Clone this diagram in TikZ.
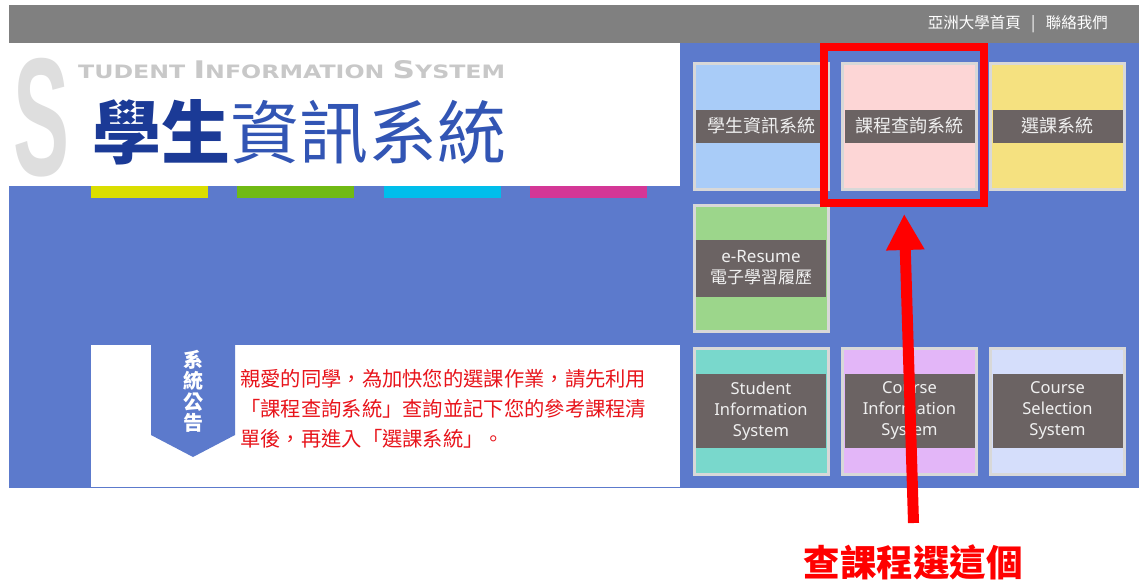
\documentclass[tikz,border=0pt]{standalone}
\usepackage{graphicx}
\usepackage{xcolor}
\usepackage{fontspec}
\newfontfamily\cjk{Noto Sans CJK TC}
\newfontfamily\sans{Noto Sans}
\newfontfamily\wide{DejaVu Sans}
\newfontfamily\arialb{Liberation Sans}
\usetikzlibrary{arrows.meta,calc,positioning}

\definecolor{bgblue}{RGB}{92,122,204}
\definecolor{topgray}{RGB}{128,128,128}
\definecolor{sgray}{RGB}{222,222,222}
\definecolor{engray}{RGB}{200,200,200}
\definecolor{titledark}{RGB}{27,58,150}
\definecolor{titleblue}{RGB}{50,85,180}
\definecolor{baryellow}{RGB}{218,222,0}
\definecolor{bargreen}{RGB}{112,186,20}
\definecolor{barcyan}{RGB}{0,190,235}
\definecolor{barpink}{RGB}{212,55,150}
\definecolor{notered}{RGB}{232,20,27}
\definecolor{tileblue}{RGB}{169,204,248}
\definecolor{tilepink}{RGB}{253,214,214}
\definecolor{tileyellow}{RGB}{245,225,128}
\definecolor{tilegreen}{RGB}{156,214,139}
\definecolor{tileteal}{RGB}{121,216,204}
\definecolor{tilelilac}{RGB}{227,182,248}
\definecolor{tilepale}{RGB}{213,222,251}
\definecolor{tileedge}{RGB}{216,216,216}
\definecolor{bandgray}{RGB}{107,99,99}
\definecolor{bandtext}{RGB}{240,240,240}
\definecolor{hintred}{RGB}{255,0,0}

\begin{document}
\begin{tikzpicture}[x=1pt,y=-1pt,
    tile/.style={draw=tileedge,line width=3pt,minimum width=134pt,minimum height=126pt,inner sep=0},
    band/.style={fill=bandgray,text=bandtext,minimum width=130pt,inner sep=0,align=center},
    cjkband/.style={band,minimum height=33pt,font=\cjk\fontsize{18}{18}\selectfont},
    enband/.style={band,minimum height=74pt,font=\sans\fontsize{16.5}{21}\selectfont}]
    \useasboundingbox (0,0) rectangle (1139,586);
    \fill[topgray] (9,5) rectangle (1139,43);
    \fill[bgblue] (9,43) rectangle (1139,488);
    \fill[white] (9,43) rectangle (680,186);
    \fill[white] (91,345) rectangle (680,487);
    \foreach \x/\c in {91/baryellow,237/bargreen,384/barcyan,530/barpink}
    \fill[\c] (\x,186) rectangle ++(117,12);
    \fill[bgblue] (151,345) -- (235,345) -- (235,435) -- (193,457) -- (151,435) -- cycle;
    \node[anchor=base,inner sep=0,text=sgray,font=\arialb\bfseries\fontsize{168}{168}\selectfont] (bigs) at (42,175) {\scalebox{0.5}[1]{S}};
    \node[anchor=base west,inner sep=0,text=engray] (entitle) at (78,78) {\resizebox{427pt}{18pt}{\wide\bfseries\fontsize{19}{19}\selectfont TUDENT {\fontsize{25}{25}\selectfont I}NFORMATION {\fontsize{25}{25}\selectfont S}YSTEM}};
    \node[inner sep=0,font=\cjk\fontsize{69}{69}\selectfont] (title) at (299,132) {\textcolor{titledark}{\bfseries 學生}\textcolor{titleblue}{資訊系統}};
    \node[anchor=east,inner sep=0,text=white,font=\cjk\fontsize{15.5}{15.5}\selectfont] (links) at (1108,24) {亞洲大學首頁\ \ \ |\ \ \ 聯絡我們};
    \node[inner sep=0,align=center,text=white,font=\cjk\bfseries\fontsize{20}{21}\selectfont] (notice) at (193,391) {系\\統\\公\\告};
    \node[anchor=north west,inner sep=0,align=left,text=notered,font=\cjk\fontsize{20.3}{30}\selectfont] (msg) at (240,369) {親愛的同學，為加快您的選課作業，請先利用\\「課程查詢系統」查詢並記下您的參考課程清\\單後，再進入「選課系統」。};
    \foreach \n/\x/\y/\c in {sis/761/126/tileblue,cqs/909.5/126/tilepink,css/1057.5/126/tileyellow,eres/761/268/tilegreen,sise/761/411/tileteal,cise/909.5/411/tilelilac,csse/1057.5/411/tilepale}
    \node[tile,fill=\c] (\n) at (\x,\y) {};
    \foreach \n/\t in {sis/學生資訊系統,cqs/課程查詢系統,css/選課系統}
    \node[cjkband] (\n-label) at (\n) {\t};
    \node[band,minimum height=57pt,font=\fontsize{17}{21}\selectfont] (eres-label) at (eres) {{\sans e-Resume}\\{\cjk 電子學習履歷}};
    \foreach \n/\t in {sise/{Student\\Information\\System},cise/{Course\\Information\\System},csse/{Course\\Selection\\System}}
    \node[enband] (\n-label) at (\n) {\t};
    \node[draw=hintred,line width=8pt,minimum width=160pt,minimum height=156pt,inner sep=0] (pick) at (904,125) {};
    \coordinate (tail) at (913.5,523);
    \draw[hintred,line width=11pt,-{Triangle[width=36pt,length=36pt]},shorten >=7pt] (tail) -- (pick.south);
    \node[inner sep=0,text=hintred,font=\cjk\bfseries\fontsize{36.5}{36.5}\selectfont] (hint) at (913,562) {查課程選這個};
\end{tikzpicture}
\end{document}
